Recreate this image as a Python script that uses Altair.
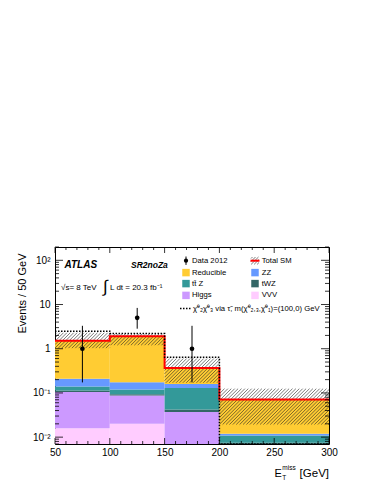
import altair as alt
import pandas as pd
import numpy as np

# ---------------- data ----------------
bin_lo = [50, 100, 150, 200]
bin_hi = [100, 150, 200, 300]
# stacked backgrounds, bottom to top
vvv = [0.016, 0.020, 0.0, 0.0]
higgs = [0.089, 0.068, 0.037, 0.0]
twz = [0.008, 0.006, 0.005, 0.0075]
ttz = [0.026, 0.025, 0.088, 0.0034]
zz = [0.071, 0.055, 0.030, 0.0010]
reducible = [1.31, 1.746, 0.205, 0.0596]
# total SM uncertainty band
band_lo = [1.03, 1.20, 0.17, 0.0193]
band_hi = [2.30, 2.15, 0.60, 0.125]
# signal
signal = [2.5, 2.2, 0.64, 0.0]
# data
data_x = [75, 125, 175, 250]
data_n = [1, 5, 1, 0]
data_err_lo = [0.173, 2.84, 0.173, 0.0]
data_err_hi = [3.30, 8.38, 3.30, 0.0]

comp_names = ["VVV", "Higgs", "tWZ", "ttZ", "ZZ", "Reducible"]
comp_vals = [vvv, higgs, twz, ttz, zz, reducible]
comp_colors = ["#FFCCFF", "#CC99FF", "#336666", "#339999", "#6699FF", "#FFCC33"]

x_major = [50, 100, 150, 200, 250, 300]
y_major = [0.01, 0.1, 1, 10, 100]

# ---------------- geometry / style ----------------
W, H = 274, 197
XMIN, XMAX = 50, 300
YMIN, YMAX = 0.007, 200
FLOOR = 1e-4
FONT = "Liberation Sans"
LR = np.log10(YMAX) - np.log10(YMIN)

xscale = alt.Scale(domain=[XMIN, XMAX], nice=False, zero=False)
yscale = alt.Scale(type="log", domain=[YMIN, YMAX], nice=False)

ylab = ("datum.value >= 50 ? '10²' : datum.value >= 5 ? '10' : datum.value >= 0.5 ? '1' : "
        "datum.value >= 0.05 ? '10⁻¹' : '10⁻²'")
XAXIS = alt.Axis(values=x_major, format="d", ticks=False, domain=False, grid=False,
                 labelFont=FONT, labelFontSize=10, labelColor="black", labelPadding=3,
                 labelFlush=False, title=None)
YAXIS = alt.Axis(values=y_major, labelExpr=ylab, ticks=False, domain=False, grid=False,
                 labelFont=FONT, labelFontSize=10, labelColor="black", labelPadding=5,
                 title="Events / 50 GeV", titleFont=FONT, titleFontSize=11,
                 titleFontWeight="normal", titleColor="black", titleAngle=270,
                 titleAlign="right", titleBaseline="alphabetic", titleX=-30, titleY=6)


def X(f):
    return alt.X(f, scale=xscale, axis=XAXIS)


def Y(f):
    return alt.Y(f, scale=yscale, axis=YAXIS)


def x_of_px(p):
    return XMIN + p / W * (XMAX - XMIN)


def px_of_x(x):
    return (x - XMIN) / (XMAX - XMIN) * W


def py_of_y(y):
    return (np.log10(YMAX) - np.log10(y)) / LR * H


def y_of_py(p):
    return 10 ** (np.log10(YMAX) - p / H * LR)


def hatch_segments(px0, px1, ptop, pbot, s=3.4):
    segs = []
    c = px0 + ptop + s / 2
    while c < px1 + pbot:
        a = max(px0, c - pbot)
        b = min(px1, c - ptop)
        if b > a:
            segs.append((a, c - a, b, c - b))
        c += s
    return segs


# ---------------- tables ----------------
rows = []
for i in range(4):
    cum = 0.0
    for name, vals in zip(comp_names, comp_vals):
        lo = cum
        cum += vals[i]
        if vals[i] <= 0:
            continue
        rows.append(dict(x0=bin_lo[i], x1=bin_hi[i], lo=max(lo, FLOOR), hi=cum, comp=name))
stack_df = pd.DataFrame(rows)
total = [sum(v[i] for v in comp_vals) for i in range(4)]

hrows = []
for i in range(4):
    for (a, pa, b, pb) in hatch_segments(px_of_x(bin_lo[i]), px_of_x(bin_hi[i]),
                                         py_of_y(band_hi[i]), py_of_y(band_lo[i])):
        hrows.append(dict(hx=x_of_px(a), hy=y_of_py(pa), hx2=x_of_px(b), hy2=y_of_py(pb)))
hatch_df = pd.DataFrame(hrows)


def step_df(vals):
    pts = []
    k = 0
    for i in range(4):
        v = max(vals[i], YMIN)
        pts.append(dict(x=bin_lo[i], y=v, i=k)); k += 1
        pts.append(dict(x=bin_hi[i], y=v, i=k)); k += 1
    return pd.DataFrame(pts)


total_df = step_df(total)
sig_df = step_df(signal)

data_df = pd.DataFrame(dict(x=data_x, n=data_n, lo=data_err_lo, hi=data_err_hi))
data_df = data_df[data_df.n > 0]

y_minor = [k * 10.0 ** e for e in range(-3, 3) for k in range(2, 10) if YMIN <= k * 10.0 ** e <= YMAX]
x_minor = [v for v in range(XMIN, XMAX + 1, 10) if v not in x_major]

# ---------------- layers ----------------
stack = alt.Chart(stack_df).mark_rect(clip=True).encode(
    x=X("x0:Q"), x2="x1:Q", y=Y("lo:Q"), y2="hi:Q",
    color=alt.Color("comp:N", scale=alt.Scale(domain=comp_names, range=comp_colors), legend=None),
)

hatch = alt.Chart(hatch_df).mark_rule(color="#222222", strokeWidth=0.6, clip=True).encode(
    x=X("hx:Q"), x2="hx2:Q", y=Y("hy:Q"), y2="hy2:Q",
)

total_line = alt.Chart(total_df).mark_line(color="#FF0000", strokeWidth=2, clip=True).encode(
    x=X("x:Q"), y=Y("y:Q"), order="i:Q",
)

sig_line = alt.Chart(sig_df).mark_line(color="black", strokeWidth=1.5, strokeDash=[1.5, 1.5], clip=True).encode(
    x=X("x:Q"), y=Y("y:Q"), order="i:Q",
)

err = alt.Chart(data_df).mark_rule(color="black", strokeWidth=1).encode(
    x=X("x:Q"), y=Y("lo:Q"), y2="hi:Q",
)
pts = alt.Chart(data_df).mark_circle(color="black", size=22, opacity=1).encode(
    x=X("x:Q"), y=Y("n:Q"),
)

layers = [stack, hatch, total_line, sig_line, err, pts]

# inward ticks on all four sides
ymaj_df = pd.DataFrame({"v": y_major})
ymin_df = pd.DataFrame({"v": y_minor})
xmaj_df = pd.DataFrame({"v": x_major})
xmin_df = pd.DataFrame({"v": x_minor})
for df_, ln in [(ymaj_df, 8), (ymin_df, 4)]:
    for x0, x1 in [(0, ln), (W, W - ln)]:
        layers.append(alt.Chart(df_).mark_rule(color="black", strokeWidth=0.8).encode(
            y=Y("v:Q"), x=alt.value(x0), x2=alt.value(x1)))
for df_, ln in [(xmaj_df, 6), (xmin_df, 3)]:
    for y0, y1 in [(H, H - ln), (0, ln)]:
        layers.append(alt.Chart(df_).mark_rule(color="black", strokeWidth=0.8).encode(
            x=X("v:Q"), y=alt.value(y0), y2=alt.value(y1)))

dummy = pd.DataFrame({"d": [0]})


def txt(s, x, y, size, align="left", baseline="alphabetic", **kw):
    return alt.Chart(dummy).mark_text(text=s, fontSize=size, font=FONT, align=align,
                                      baseline=baseline, color="black", **kw).encode(
        x=alt.value(x), y=alt.value(y))


def rule_px(x0, y0, x1, y1, color="black", width=1.0, dash=None):
    kw = dict(color=color, strokeWidth=width)
    if dash:
        kw["strokeDash"] = dash
    return alt.Chart(dummy).mark_rule(**kw).encode(
        x=alt.value(x0), y=alt.value(y0), x2=alt.value(x1), y2=alt.value(y1))


# labels
layers += [
    txt("ATLAS", 9.5, 20.7, 10, fontWeight="bold", fontStyle="italic"),
    txt("SR2noZa", 76, 20.7, 8.5, fontWeight="bold", fontStyle="italic"),
    txt("√s= 8 TeV", 6, 43, 8),
    txt("∫", 48, 39.5, 17, baseline="middle"),
    txt("L dt = 20.3 fb⁻¹", 55, 43, 8),
]

# x-axis title
layers += [
    txt("E", 219.5, 229.5, 11),
    txt("T", 227.3, 232.5, 6.5),
    txt("miss", 227.3, 222.5, 6.5),
    txt("[GeV]", W, 229.5, 11.5, align="right"),
]

# legend
row_y = [13.7, 25.6, 36.6, 48.4, 61.6]
c1_sym, c1_txt = 131, 137
c2_sym, c2_txt = 200, 206.7
LFS = 7.7
leg_boxes = [
    ("Reducible", "#FFCC33", 1, 0), ("ZZ", "#6699FF", 1, 1),
    ("tt̄ Z", "#339999", 2, 0), ("tWZ", "#336666", 2, 1),
    ("Higgs", "#CC99FF", 3, 0), ("VVV", "#FFCCFF", 3, 1),
]
for lab, col, r, c in leg_boxes:
    sx = c1_sym if c == 0 else c2_sym
    tx = c1_txt if c == 0 else c2_txt
    layers.append(alt.Chart(dummy).mark_square(size=56, color=col, opacity=1).encode(
        x=alt.value(sx), y=alt.value(row_y[r])))
    layers.append(txt(lab, tx, row_y[r], LFS, baseline="middle"))

# data entry
layers.append(rule_px(c1_sym, row_y[0] - 4.2, c1_sym, row_y[0] + 4.2, width=1))
layers.append(alt.Chart(dummy).mark_circle(size=18, color="black", opacity=1).encode(
    x=alt.value(c1_sym), y=alt.value(row_y[0])))
layers.append(txt("Data 2012", c1_txt, row_y[0], LFS, baseline="middle"))

# total SM entry: hatched box with red line
for (a, pa, b, pb) in hatch_segments(c2_sym - 4, c2_sym + 4, row_y[0] - 3.7, row_y[0] + 3.7, s=3.0):
    layers.append(rule_px(a, pa, b, pb, color="#222222", width=0.6))
layers.append(rule_px(c2_sym - 4.5, row_y[0], c2_sym + 4.5, row_y[0], color="#FF0000", width=2))
layers.append(txt("Total SM", c2_txt, row_y[0], LFS, baseline="middle"))

# signal entry
layers.append(rule_px(125, row_y[4], 136, row_y[4], width=1.5, dash=[1.5, 1.5]))
layers.append(txt("χ̃⁰₂χ̃⁰₃ via τ̃, m(χ̃⁰₂,₃,χ̃⁰₁)=(100,0) GeV", 138, row_y[4], LFS, baseline="middle"))

chart = alt.layer(*layers).properties(
    width=W, height=H,
    padding={"left": 47, "top": 239, "right": 37, "bottom": 37},
    autosize=alt.AutoSizeParams(type="none"),
    background="white",
).configure_view(stroke="black", strokeWidth=1)

chart.save("out.html", embed_options={"renderer": "svg", "actions": False})
